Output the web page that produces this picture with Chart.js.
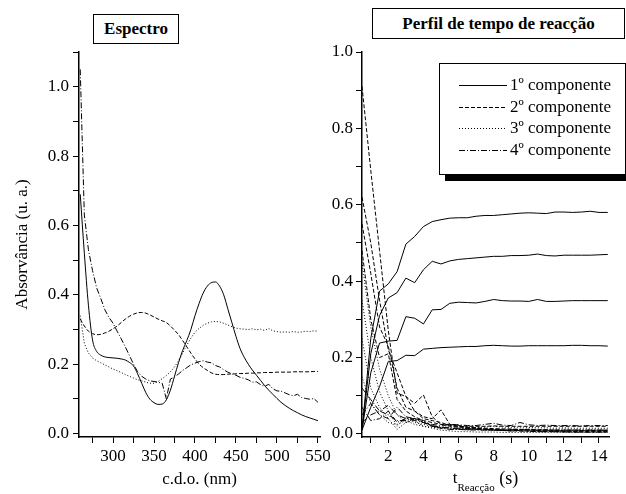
<!DOCTYPE html>
<html>
<head>
<meta charset="utf-8">
<script src="https://cdn.jsdelivr.net/npm/chart.js@4"></script>
<style>
  body { margin: 0; background: #fff; }
  #wrap { position: relative; width: 626px; height: 494px; overflow: hidden; }
  canvas { position: absolute; left: 0; top: 0; }
  .box { position: absolute; border: 1px solid #000; background: #fff; box-sizing: border-box;
         font: bold 17px 'Liberation Serif', serif; text-align: center; color: #000; }
</style>
</head>
<body>
<div id="wrap">
  <canvas id="specChart" width="626" height="494"></canvas>
  <canvas id="timeChart" width="626" height="494"></canvas>
  <div class="box" style="left:93px;top:14px;width:86px;height:30px;line-height:28px;">Espectro</div>
  <div class="box" style="left:372px;top:8px;width:253px;height:31px;line-height:29px;">Perfil de tempo de reacção</div>
</div>
<script>
// spectra (left panel)
const wavelengths = [260,265,270,275,280,285,290,295,300,305,310,315,320,325,330,335,340,345,350,355,
  360,365,370,375,380,385,390,395,400,405,410,415,420,425,430,435,440,445,450,455,
  460,465,470,475,480,485,490,495,500,505,510,515,520,525,530,535,540,545,550];

const spec1 = [0.69,0.52,0.37,0.27,0.237,0.226,0.221,0.219,0.218,0.217,
  0.215,0.212,0.205,0.195,0.172,0.145,0.118,0.099,0.089,0.084,
  0.085,0.097,0.125,0.165,0.205,0.24,0.268,0.30,0.34,0.375,
  0.405,0.425,0.435,0.437,0.425,0.40,0.36,0.32,0.28,0.245,
  0.22,0.20,0.183,0.168,0.153,0.138,0.125,0.113,0.101,0.09,
  0.081,0.073,0.066,0.06,0.054,0.049,0.045,0.041,0.037];
const spec2 = [0.33,0.31,0.295,0.288,0.285,0.286,0.29,0.295,0.302,0.31,
  0.32,0.33,0.338,0.344,0.348,0.349,0.347,0.342,0.336,0.33,
  0.325,0.32,0.31,0.298,0.285,0.268,0.25,0.232,0.215,0.2,
  0.19,0.182,0.175,0.171,0.17,0.17,0.171,0.172,0.172,0.173,
  0.173,0.174,0.174,0.175,0.175,0.176,0.176,0.176,0.177,0.177,
  0.177,0.177,0.178,0.178,0.178,0.178,0.178,0.179,0.179];
const spec3 = [0.34,0.26,0.232,0.218,0.21,0.204,0.198,0.192,0.186,0.181,
  0.176,0.17,0.165,0.16,0.155,0.152,0.148,0.145,0.145,0.15,
  0.158,0.167,0.178,0.192,0.21,0.232,0.255,0.275,0.292,0.303,
  0.312,0.318,0.322,0.323,0.322,0.318,0.313,0.308,0.304,0.302,
  0.301,0.30,0.302,0.299,0.301,0.297,0.303,0.296,0.294,0.292,
  0.293,0.292,0.294,0.292,0.293,0.295,0.294,0.296,0.295];
const spec4 = [1.05,0.63,0.53,0.47,0.42,0.39,0.357,0.335,0.318,0.295,
  0.273,0.25,0.225,0.2,0.178,0.165,0.157,0.152,0.15,0.148,
  0.145,0.1,0.157,0.163,0.172,0.182,0.19,0.198,0.203,0.207,
  0.21,0.206,0.204,0.196,0.192,0.184,0.177,0.172,0.168,0.162,
  0.159,0.155,0.148,0.149,0.141,0.136,0.142,0.129,0.123,0.122,
  0.117,0.112,0.109,0.113,0.104,0.101,0.099,0.101,0.09];

// reaction time profiles (right panel), 4 runs per component
const times = [0.5,1,1.5,2,2.5,3,3.5,4,4.5,5,5.5,6,6.5,7,7.5,8,8.5,9,9.5,10,10.5,11,11.5,12,12.5,13,13.5,14,14.5];

const comp1Runs = [
  [0.01,0.25,0.374,0.393,0.425,0.497,0.517,0.543,0.556,0.561,0.565,0.566,0.566,0.570,0.572,0.572,0.574,0.576,0.578,0.579,0.578,0.577,0.581,0.581,0.580,0.581,0.583,0.580,0.580],
  [0.01,0.21,0.31,0.356,0.370,0.408,0.396,0.430,0.452,0.445,0.453,0.457,0.459,0.461,0.463,0.465,0.465,0.467,0.467,0.468,0.471,0.467,0.466,0.468,0.468,0.468,0.468,0.469,0.470],
  [0.01,0.16,0.238,0.243,0.245,0.307,0.303,0.288,0.325,0.326,0.342,0.345,0.344,0.343,0.347,0.352,0.349,0.348,0.348,0.347,0.352,0.347,0.347,0.348,0.349,0.349,0.349,0.349,0.349],
  [0.01,0.07,0.124,0.19,0.192,0.206,0.205,0.222,0.224,0.226,0.227,0.228,0.229,0.229,0.231,0.232,0.231,0.230,0.230,0.231,0.231,0.231,0.231,0.231,0.232,0.232,0.231,0.231,0.230]
];
const comp2Runs = [
  [0.91,0.69,0.48,0.27,0.107,0.098,0.06,0.04,0.035,0.03,0.022,0.02,0.018,0.016,0.015,0.014,0.013,0.013,0.012,0.012,0.011,0.011,0.010,0.010,0.010,0.009,0.009,0.009,0.009],
  [0.62,0.50,0.35,0.22,0.16,0.098,0.08,0.102,0.045,0.025,0.02,0.018,0.016,0.015,0.012,0.010,0.009,0.008,0.008,0.007,0.006,0.006,0.006,0.005,0.005,0.005,0.005,0.005,0.005],
  [0.55,0.42,0.28,0.23,0.12,0.07,0.06,0.045,0.04,0.063,0.025,0.02,0.016,0.014,0.013,0.012,0.010,0.011,0.012,0.010,0.009,0.008,0.008,0.007,0.007,0.006,0.006,0.006,0.006],
  [0.48,0.30,0.20,0.21,0.09,0.06,0.045,0.035,0.03,0.025,0.025,0.022,0.02,0.02,0.02,0.021,0.02,0.02,0.02,0.02,0.02,0.02,0.02,0.02,0.02,0.02,0.02,0.02,0.02]
];
const comp3Runs = [
  [0.45,0.28,0.17,0.10,0.05,0.03,0.04,0.035,0.02,0.015,0.012,0.012,0.01,0.012,0.01,0.009,0.01,0.009,0.01,0.01,0.009,0.01,0.009,0.009,0.01,0.009,0.01,0.01,0.01],
  [0.35,0.20,0.11,0.06,0.02,0.045,0.03,0.025,0.02,0.018,0.016,0.015,0.014,0.015,0.013,0.012,0.013,0.012,0.012,0.013,0.012,0.012,0.012,0.013,0.012,0.012,0.012,0.012,0.012],
  [0.25,0.12,0.07,0.04,0.012,0.03,0.035,0.02,0.015,0.01,0.008,0.006,0.006,0.005,0.005,0.005,0.004,0.004,0.004,0.004,0.004,0.004,0.004,0.004,0.004,0.004,0.004,0.004,0.004],
  [0.15,0.08,0.05,0.03,0.025,0.035,0.025,0.02,0.018,0.015,0.025,0.02,0.018,0.017,0.018,0.02,0.018,0.017,0.018,0.017,0.016,0.016,0.015,0.016,0.015,0.015,0.015,0.015,0.015]
];
const comp4Runs = [
  [0.12,0.09,0.06,0.075,0.05,0.04,0.04,0.03,0.025,0.022,0.025,0.024,0.022,0.022,0.025,0.028,0.023,0.022,0.03,0.024,0.022,0.023,0.022,0.022,0.022,0.021,0.022,0.022,0.022],
  [0.05,0.08,0.05,0.04,0.07,0.045,0.04,0.035,0.02,0.015,0.012,0.012,0.011,0.01,0.01,0.01,0.009,0.009,0.009,0.01,0.008,0.008,0.008,0.008,0.008,0.008,0.008,0.008,0.008],
  [0.03,0.05,0.06,0.05,0.035,0.035,0.04,0.03,0.02,0.018,0.015,0.013,0.012,0.012,0.011,0.01,0.009,0.008,0.008,0.007,0.006,0.006,0.006,0.006,0.005,0.005,0.005,0.005,0.005],
  [0.07,0.035,0.04,0.06,0.03,0.04,0.035,0.03,0.022,0.017,0.016,0.015,0.014,0.013,0.012,0.012,0.011,0.011,0.011,0.011,0.01,0.01,0.01,0.01,0.01,0.01,0.01,0.01,0.01]
];

const componentNames = ['1º componente', '2º componente', '3º componente', '4º componente'];
const componentDash = [[], [4, 2], [1, 2], [6, 2, 1, 2]];

const serif = "'Liberation Serif', 'Times New Roman', serif";
const font17 = { family: serif, size: 17 };
Chart.defaults.color = '#000';
Chart.defaults.font.family = serif;
Chart.defaults.font.size = 17;

function axisStyle() {
  return {
    border: { display: true, color: '#000', width: 1.5 },
    grid: { drawOnChartArea: false, drawTicks: true, tickLength: 6, tickColor: '#000', tickWidth: 1 }
  };
}

function lineSet(label, xs, ys, dash, smooth) {
  return {
    label: label,
    data: xs.map((x, i) => ({ x: x, y: ys[i] })),
    borderColor: '#000',
    borderWidth: 1,
    borderDash: dash,
    pointRadius: 0,
    fill: false,
    cubicInterpolationMode: smooth ? 'monotone' : 'default',
    tension: 0
  };
}

// left chart: spectra
new Chart(document.getElementById('specChart'), {
  type: 'line',
  data: {
    datasets: [
      lineSet(componentNames[0], wavelengths, spec1, componentDash[0], true),
      lineSet(componentNames[1], wavelengths, spec2, componentDash[1], true),
      lineSet(componentNames[2], wavelengths, spec3, componentDash[2], false),
      lineSet(componentNames[3], wavelengths, spec4, componentDash[3], false)
    ]
  },
  options: {
    responsive: false,
    animation: false,
    events: [],
    layout: { padding: { left: 0, top: 52, right: 306, bottom: 0 } },
    plugins: { legend: { display: false }, tooltip: { enabled: false } },
    scales: {
      x: Object.assign(axisStyle(), {
        type: 'linear', min: 258.5, max: 552.5,
        afterFit: (s) => { s.height = 57; },
        ticks: { font: font17, stepSize: 25, autoSkip: false, maxRotation: 0, padding: 3, includeBounds: false,
          callback: (v) => (v % 50 === 0 ? String(v) : '') },
        title: { display: true, text: 'c.d.o. (nm)', font: font17, padding: { top: 0, bottom: 4 } }
      }),
      y: Object.assign(axisStyle(), {
        type: 'linear', min: -0.01, max: 1.1,
        afterFit: (s) => { s.width = 79; },
        ticks: { font: font17, stepSize: 0.1, autoSkip: false, padding: 4, includeBounds: false,
          callback: (v) => (Math.round(v * 10) % 2 === 0 ? v.toFixed(1) : '') },
        title: { display: true, text: 'Absorvância (u. a.)', font: font17, padding: { top: 12, bottom: 0 } }
      })
    }
  }
});

// legend box with shadow, drawn inside the right plot
const legendBox = {
  id: 'legendBox',
  afterDraw(chart) {
    const ctx = chart.ctx, a = chart.chartArea;
    const x = a.left + 77, y = a.top + 11, w = 186, h = 111;
    ctx.save();
    ctx.fillStyle = '#000';
    ctx.fillRect(x + 6, y + h, w, 7);
    ctx.fillStyle = '#fff';
    ctx.fillRect(x, y, w, h);
    ctx.strokeStyle = '#000';
    ctx.lineWidth = 1;
    ctx.strokeRect(x + 0.5, y + 0.5, w, h);
    ctx.font = '17px ' + serif;
    ctx.textBaseline = 'middle';
    componentNames.forEach((name, i) => {
      const ly = Math.round(y + 22 + i * 21.7) + 0.5;
      ctx.setLineDash(componentDash[i]);
      ctx.beginPath();
      ctx.moveTo(x + 20, ly);
      ctx.lineTo(x + 68, ly);
      ctx.stroke();
      ctx.setLineDash([]);
      ctx.fillStyle = '#000';
      ctx.fillText(name, x + 71, ly);
    });
    ctx.restore();
  }
};

// x-axis title with subscript
const subTitle = {
  id: 'subTitle',
  afterDraw(chart) {
    const ctx = chart.ctx, a = chart.chartArea;
    ctx.save();
    ctx.fillStyle = '#000';
    ctx.textBaseline = 'alphabetic';
    const big = '17px ' + serif, small = '11px ' + serif, par = '18px ' + serif;
    ctx.font = big; const wt = ctx.measureText('t').width;
    ctx.font = small; const ws = ctx.measureText('Reacção').width;
    ctx.font = par; const wp = ctx.measureText(' (s)').width;
    let x = (a.left + a.right) / 2 - (wt + ws + wp) / 2;
    ctx.font = big; ctx.fillText('t', x, 483); x += wt;
    ctx.font = small; ctx.fillText('Reacção', x, 491); x += ws;
    ctx.font = par; ctx.fillText(' (s)', x, 484);
    ctx.restore();
  }
};

// right chart: time profiles
const runGroups = [comp1Runs, comp2Runs, comp3Runs, comp4Runs];
const profileSets = [];
runGroups.forEach((runs, c) => {
  runs.forEach((vals) => profileSets.push(lineSet(componentNames[c], times, vals, componentDash[c], false)));
});

new Chart(document.getElementById('timeChart'), {
  type: 'line',
  data: { datasets: profileSets },
  options: {
    responsive: false,
    animation: false,
    events: [],
    layout: { padding: { left: 330, top: 52, right: 17, bottom: 0 } },
    plugins: { legend: { display: false }, tooltip: { enabled: false } },
    scales: {
      x: Object.assign(axisStyle(), {
        type: 'linear', min: 0.5, max: 14.57,
        afterFit: (s) => { s.height = 57; },
        ticks: { font: font17, stepSize: 1, autoSkip: false, maxRotation: 0, padding: 3, includeBounds: false,
          callback: (v) => (v % 2 === 0 ? String(v) : '') }
      }),
      y: Object.assign(axisStyle(), {
        type: 'linear', min: -0.008, max: 1.0,
        afterFit: (s) => { s.width = 32; },
        ticks: { font: font17, stepSize: 0.1, autoSkip: false, padding: 3, includeBounds: false,
          callback: (v) => (Math.round(v * 10) % 2 === 0 ? v.toFixed(1) : '') }
      })
    }
  },
  plugins: [legendBox, subTitle]
});
</script>
</body>
</html>
